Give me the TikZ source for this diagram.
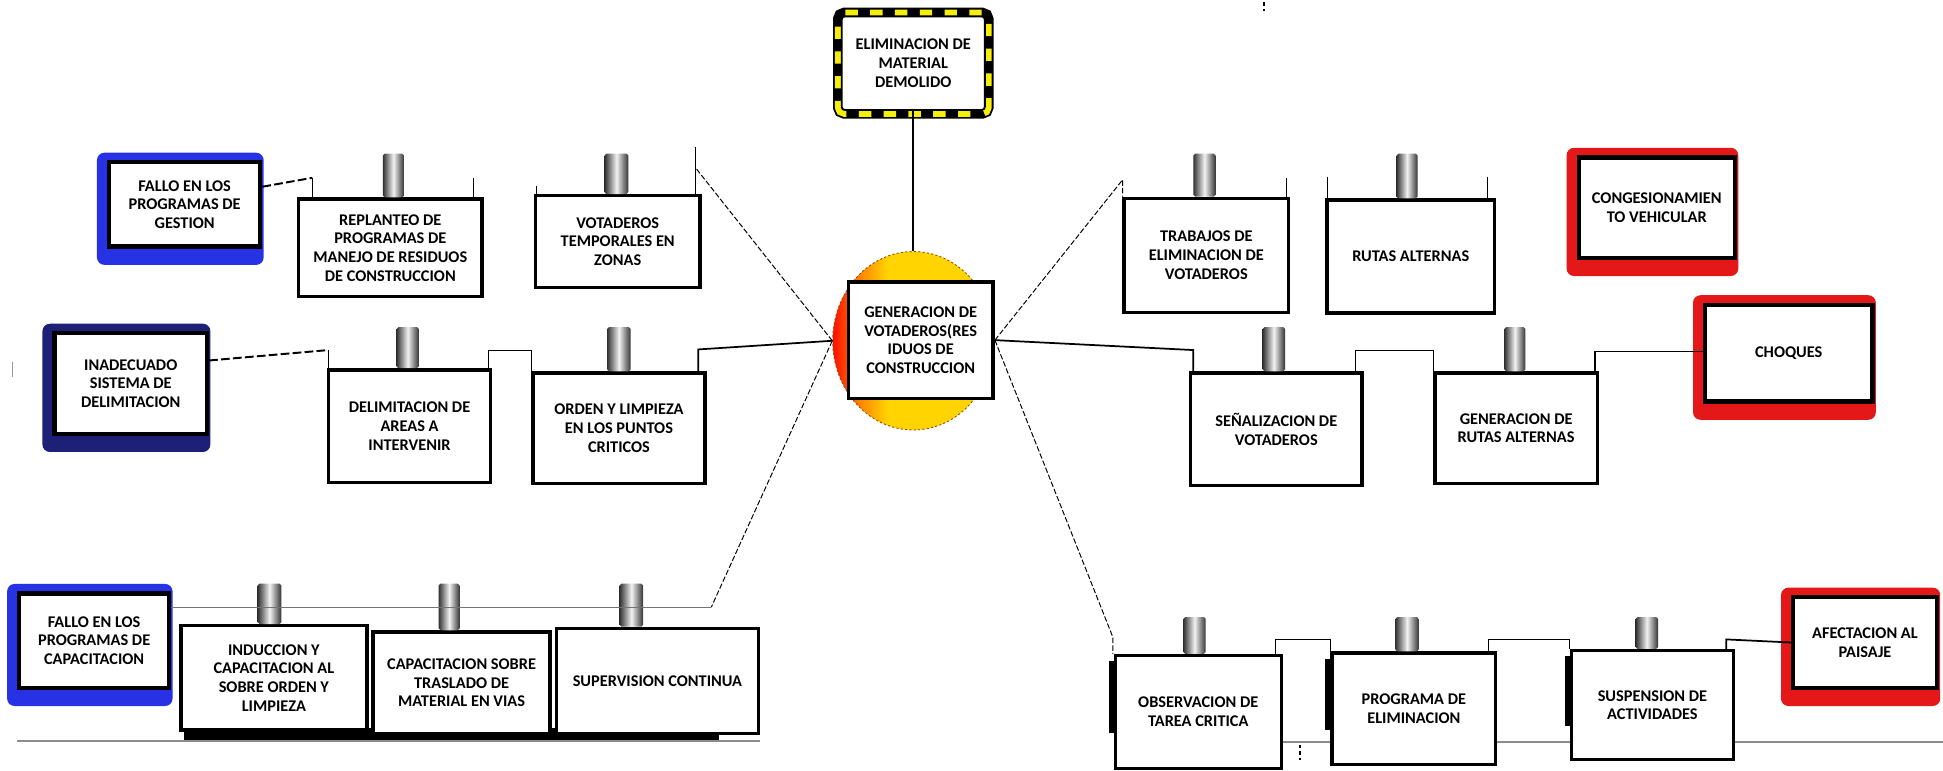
\documentclass[tikz,border=0pt]{standalone}
\usepackage{fontspec}
\setmainfont{Carlito}
\usetikzlibrary{calc, backgrounds, shapes.geometric}
\definecolor{plateblue}{RGB}{38, 50, 228}
\definecolor{platenavy}{RGB}{30, 32, 120}
\definecolor{platered}{RGB}{228, 24, 24}
\definecolor{tape}{RGB}{245, 238, 10}
\definecolor{gold}{RGB}{255, 212, 0}
\pgfdeclarehorizontalshading{sun}{100bp}{color(0bp)=(red); color(25bp)=(red!90!orange); color(33bp)=(orange); color(42bp)=(gold); color(100bp)=(gold)}

\begin{document}
\begin{tikzpicture}[x=0.2mm, y=-0.2mm,
  every node/.style={font=\fontsize{7.5}{8.6}\selectfont\bfseries, align=center},
  card/.style={draw, line width=0.55mm, fill=white, inner sep=1pt},
  plate/.style={draw, line width=0.7mm, fill=white, inner sep=1pt},
  hazard/.style={draw, line width=0.3mm, fill=white, rounded corners=0.5mm,
    preaction={draw=black, line width=2.8mm},
    preaction={draw=tape, line width=2.2mm, dash pattern=on 2mm off 2mm}},
  tab/.style={left color=black!80, right color=black!80, middle color=black!5, rounded corners=0.3mm},
  hanger/.style={draw, line width=0.4pt},
  link/.style={draw, line width=0.8pt},
  rope/.style={draw, line width=0.45pt, dash pattern=on 2.5pt off 1pt},
  cause/.style={draw, line width=0.9pt, dash pattern=on 4pt off 1.5pt},
  base/.style={draw=black!45, line width=0.7pt}]
  \useasboundingbox (0,0) rectangle (1568,622);

  % centre
  \node[ellipse, shade, shading=sun, draw=orange!60!black, dash pattern=on 1pt off 1pt, line width=0.4pt,
        minimum width=26mm, minimum height=28.8mm] (circ) at (737,275) {};
  \node[card, minimum width=23.4mm, minimum height=18.8mm] (gen) at (743,274.5) {GENERACION DE\\VOTADEROS(RES\\IDUOS DE\\CONSTRUCCION};
  \node[hazard, minimum width=23.1mm, minimum height=15.1mm] (elim) at (737,51) {ELIMINACION DE\\MATERIAL\\DEMOLIDO};

  % left side
  \node[plate, minimum width=24.4mm, minimum height=13.6mm] (g1) at (149,165) {FALLO EN LOS\\PROGRAMAS DE\\GESTION};
  \node[card, minimum width=29.6mm, minimum height=15.7mm] (replanteo) at (315,200) {REPLANTEO DE\\PROGRAMAS DE\\MANEJO DE RESIDUOS\\DE CONSTRUCCION};
  \node[card, minimum width=26.6mm, minimum height=14.8mm] (temporales) at (498.5,195) {VOTADEROS\\TEMPORALES EN\\ZONAS};

  \node[plate, minimum width=24.6mm, minimum height=16.2mm] (g2) at (105.5,309.5) {INADECUADO\\SISTEMA DE\\DELIMITACION};
  \node[card, minimum width=26.2mm, minimum height=18.2mm] (delimitacion) at (330.5,344) {DELIMITACION DE\\AREAS A\\INTERVENIR};
  \node[card, minimum width=27.8mm, minimum height=17.8mm] (orden) at (499.5,345.5) {ORDEN Y LIMPIEZA\\EN LOS PUNTOS\\CRITICOS};

  \node[plate, minimum width=24.2mm, minimum height=15.2mm] (g3) at (76,517) {FALLO EN LOS\\PROGRAMAS DE\\CAPACITACION};
  \node[card, minimum width=30mm, minimum height=16.8mm] (induccion) at (221,547) {INDUCCION Y\\CAPACITACION AL\\SOBRE ORDEN Y\\LIMPIEZA};
  \node[card, minimum width=28.6mm, minimum height=16.4mm] (capacitacion) at (372.5,551) {CAPACITACION SOBRE\\TRASLADO DE\\MATERIAL EN VIAS};
  \node[card, minimum width=32.6mm, minimum height=17mm] (supervision) at (530.5,549.5) {SUPERVISION CONTINUA};

  % right side
  \node[card, minimum width=26.6mm, minimum height=18.4mm] (trabajos) at (973.5,206) {TRABAJOS DE\\ELIMINACION DE\\VOTADEROS};
  \node[card, minimum width=27mm, minimum height=18.2mm] (rutas) at (1138.5,207) {RUTAS ALTERNAS};
  \node[plate, minimum width=25.2mm, minimum height=16.2mm] (g4) at (1337,167.5) {CONGESIONAMIEN\\TO VEHICULAR};

  \node[card, minimum width=27.7mm, minimum height=18.2mm] (senal) at (1030,346.5) {SEÑALIZACION DE\\VOTADEROS};
  \node[card, minimum width=26.2mm, minimum height=17.8mm] (genrutas) at (1223.5,345.5) {GENERACION DE\\RUTAS ALTERNAS};
  \node[plate, minimum width=27mm, minimum height=15.6mm] (g5) at (1443.5,285) {CHOQUES};

  \node[card, minimum width=26.8mm, minimum height=18.2mm] (obs) at (967,574.5) {OBSERVACION DE\\TAREA CRITICA};
  \node[card, minimum width=26.4mm, minimum height=18mm] (programa) at (1141,572) {PROGRAMA DE\\ELIMINACION};
  \node[card, minimum width=26.2mm, minimum height=17.6mm] (suspension) at (1333.5,569) {SUSPENSION DE\\ACTIVIDADES};
  \node[plate, minimum width=23.2mm, minimum height=14.6mm] (g6) at (1505,518.5) {AFECTACION AL\\PAISAJE};

  % plates and lines behind
  \begin{scope}[on background layer]
    \foreach \g/\c in {g1/plateblue, g2/platenavy, g3/plateblue, g4/platered, g5/platered, g6/platered}
      \fill[\c, rounded corners=1.2mm] ($(\g.south west)+(-8,13)$) rectangle ($(\g.north east)+(1,-6)$);
    \fill ($(induccion.south west)+(4,-3)$) rectangle ($(supervision.south east)+(-33,4)$);
    \draw[base] (g3.west |- 0,598) -- (supervision.east |- 0,598);
    \draw[base] (obs.west |- 0,599) -- (1568,599);
  \end{scope}

  % clips
  \foreach \b/\xa/\xb/\t in {replanteo/309/326/124, temporales/488/507/124, delimitacion/320/338/264,
      orden/490/509/264, induccion/208/227/471, capacitacion/354/371/471, supervision/500/519/471,
      trabajos/963/981/124, rutas/1127/1144/124, senal/1019/1037/264, genrutas/1214/1231/264,
      obs/955/973/498, programa/1126/1145/498, suspension/1320/1338/498}
    \shade[tab] (\xa,\t) rectangle (\b.north -| \xb,0);

  % loose hangers
  \foreach \b/\x/\t in {replanteo/382/143.5, temporales/433/150, trabajos/1038/144, rutas/1071/143, rutas/1200/143}
    \draw[hanger] (\x,\t) -- (\b.north -| \x,0);

  % dark edges on the lower right cards
  \foreach \b in {obs, programa, suspension}
    \fill ($(\b.north west)+(-4,6)$) rectangle ($(\b.west)+(0,17)$);

  % connectors from the centre
  \coordinate (tmpR) at (561,135);
  \coordinate (ordR) at (563.5,282);
  \coordinate (capR) at (574,490);
  \coordinate (trbL) at (906,145);
  \coordinate (senL) at (963,282.5);
  \coordinate (obsL) at (898,514);
  \draw[link] (elim.south) -- (circ.north);
  \draw[rope] (circ.west) -- (tmpR);
  \draw[hanger] (tmpR |- 0,119) -- (tmpR |- temporales.north);
  \draw[link] (circ.west) -- (ordR) -- (ordR |- orden.north);
  \draw[rope] (circ.west) -- (capR);
  \draw[hanger, black!55] (g3.east |- capR) -- (capR);
  \draw[rope] (gen.east) -- (trbL) -- (trbL |- trabajos.north);
  \draw[link] (gen.east) -- (senL) -- (senL |- senal.north);
  \draw[rope] (gen.east) -- (obsL) -- (obsL |- obs.north);

  % causes and chains
  \coordinate (repL) at (252,143.5);
  \coordinate (delL) at (265,282.5);
  \coordinate (stepA) at (394,282.5);
  \coordinate (stepB) at (1094,282.5);
  \coordinate (choL) at (1287,283.7);
  \coordinate (stepC) at (1029,516);
  \coordinate (stepD) at (1201,516);
  \coordinate (afeL) at (1393,516);
  \draw[cause] ($(g1.north east)!0.3!(g1.south east)$) -- (repL);
  \draw[hanger] (repL) -- (repL |- replanteo.north);
  \draw[cause] ($(g2.north east)!0.28!(g2.south east)$) -- (delL);
  \draw[hanger] (delL) -- (delL |- delimitacion.north);
  \draw[hanger] (stepA |- delimitacion.north) -- (stepA) -- (stepA -| orden.west) -- (orden.north west);
  \draw[hanger] (stepB |- senal.north) -- (stepB) -- (stepB -| genrutas.west) -- (genrutas.north west);
  \draw[link] (choL |- genrutas.north) -- (choL) -- (choL -| g5.west);
  \draw[hanger] (stepC |- obs.north) -- (stepC) -- (stepC -| programa.west) -- (programa.north west);
  \draw[hanger] (stepD |- programa.north) -- (stepD) -- (stepD -| suspension.west) -- (suspension.north west);
  \draw[link] (afeL |- suspension.north) -- (afeL) -- (g6.west);

  % specks
  \draw[line width=0.6pt, dash pattern=on 1.5pt off 1.5pt] (1049,601) -- (1049,613);
  \draw[line width=0.6pt, dash pattern=on 1.5pt off 1.5pt] (1020,2) -- (1020,9);
  \draw[black!40, line width=0.5pt] (10,292) -- (10,304);
\end{tikzpicture}
\end{document}
